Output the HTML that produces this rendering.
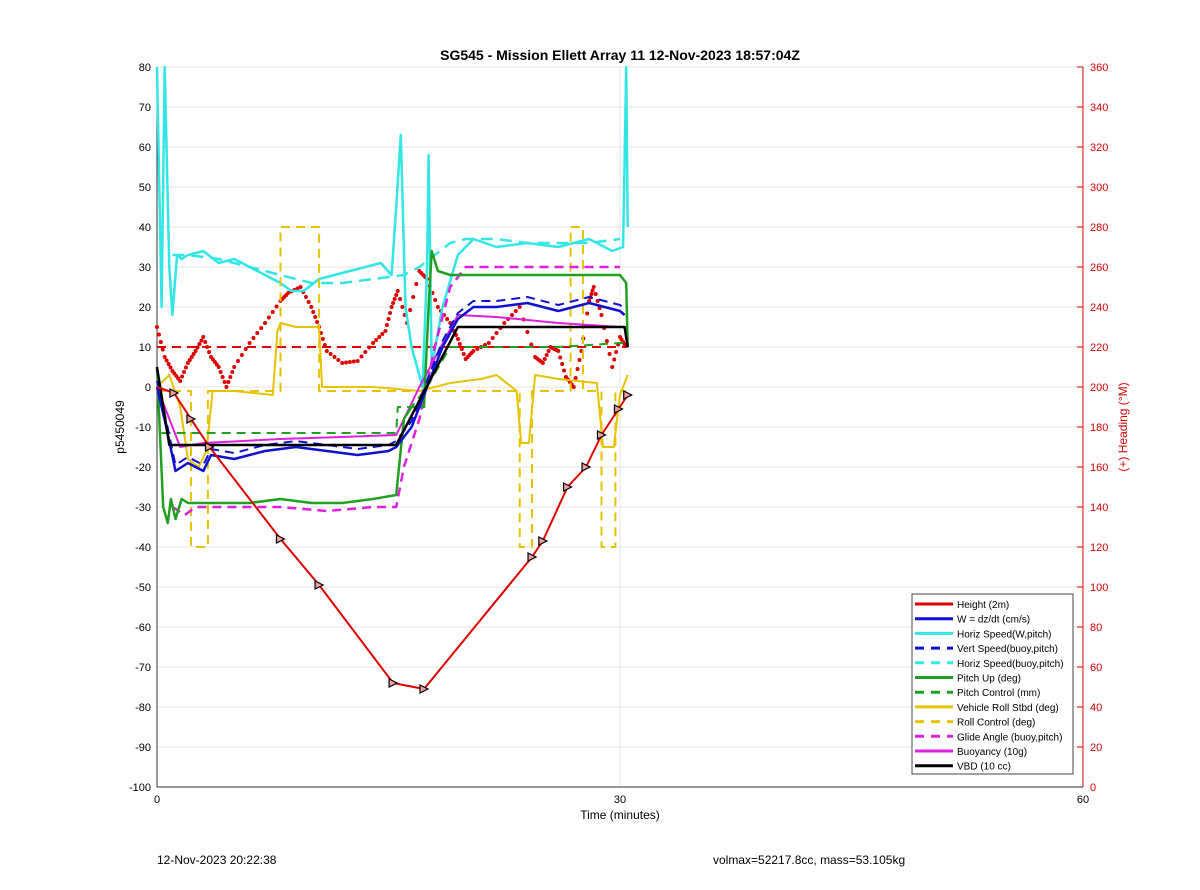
<!DOCTYPE html>
<html><head><meta charset="utf-8"><style>
body{margin:0;background:#fff;font-family:"Liberation Sans",Arial,sans-serif}
svg text{font-family:"Liberation Sans",Arial,sans-serif}
</style></head><body>
<svg id="c" width="1200" height="885" xmlns="http://www.w3.org/2000/svg">
<rect width="1200" height="885" fill="#fff"/>
<text x="620" y="60" text-anchor="middle" font-size="14" font-weight="bold">SG545 - Mission Ellett Array 11 12-Nov-2023 18:57:04Z</text>
<g id="grid"></g><g id="axes"></g><g id="series"></g>
<text x="620" y="819" text-anchor="middle" font-size="12">Time (minutes)</text>
<text x="124" y="427" text-anchor="middle" font-size="12" transform="rotate(-90 124 427)">p5450049</text>
<text x="1127" y="427" text-anchor="middle" font-size="12" fill="#d40000" transform="rotate(-90 1127 427)">(+) Heading (°M)</text>
<text x="157" y="864" font-size="12">12-Nov-2023 20:22:38</text>
<text x="713" y="864" font-size="12">volmax=52217.8cc, mass=53.105kg</text>
<g id="legend"></g>
</svg>
<script>
const xTicks=[0,30,60];
const yTicks=[80,70,60,50,40,30,20,10,0,-10,-20,-30,-40,-50,-60,-70,-80,-90,-100];
const hTicks=[0,20,40,60,80,100,120,140,160,180,200,220,240,260,280,300,320,340,360];
const heightT=[0,1.1,2.2,3.4,8,10.5,15.3,17.3,24.3,25,26.6,27.8,28.8,29.9,30.5];
const heightV=[0,-1.5,-8,-15,-38,-49.5,-74,-75.5,-42.5,-38.5,-25,-20,-12,-5.5,-2];
const wT=[0,0.6,1.2,2,3,3.5,5,7,9,11,13,15,15.5,16.5,17.5,18.5,19.5,20.5,22,24,26,28,29,30,30.3];
const wV=[0,-10,-21,-19,-21,-17,-18,-16,-15,-16,-17,-16,-15,-10,0,10,17,20,20,21,19,21,20,19,18];
const hsT=[0,0.3,0.5,0.8,1.0,1.3,1.6,2,3,4,5,6,7,8,8.7,9.5,10.5,11.5,12.5,13.5,14.5,15.2,15.5,15.8,16.1,16.5,17.2,17.5,17.6,17.8,18.5,19.5,20.5,22,24,26,28,29.5,30.2,30.4,30.5];
const hsV=[80,20,80,30,18,33,32,33,34,31,32,30,28,26,24,24,27,28,29,30,31,28,45,63,20,10,0,30,58,5,20,33,37,35,36,35,37,34,35,80,40];
const hsdT=[1,2,4,6,8,10,12,14,16,17,18,19,20,22,24,26,28,30];
const hsdV=[33,33,32,30,28,26,26,27,28,30,33,36,37,37,36,36,36,37];
const pitchT=[0,0.4,0.7,0.9,1.2,1.6,2,4,6,8,10,12,14,15.5,16,16.5,17.3,17.6,17.8,18.2,19,21,24,27,29,30,30.4,30.5];
const pitchV=[5,-30,-34,-28,-33,-28,-29,-29,-29,-28,-29,-29,-28,-27,-8,-5,-5,20,34,29,28,28,28,28,28,28,26,10];
const pctlT=[0.3,15.5,15.6,16.5,17.5,19,22,26,30,30.5];
const pctlV=[-11.5,-11.5,-5,-5,0,10,10,10,11,11];
const rollT=[0,0.8,1.5,2,2.7,3.2,3.6,5,7.5,7.8,8,9,10.5,10.7,11,14,17,19,21,22,23.3,23.6,24.1,24.5,26,28.5,28.9,29.6,30,30.5];
const rollV=[0,3,-5,-18,-20,-16,-1,-1,-2,14,16,15,15,0,0,0,-1,1,2,3,-1,-14,-14,3,2,1,-15,-15,-2,3];
const rcT=[0,2.2,2.2,3.3,3.3,8,8,10.5,10.5,23.5,23.5,24.3,24.3,26.8,26.8,27.6,27.6,28.8,28.8,29.7,29.7,30.4];
const rcV=[-1,-1,-40,-40,-1,-1,40,40,-1,-1,-40,-40,-1,-1,40,40,-1,-1,-40,-40,-1,-1];
const glideT=[1,1.8,2.5,5,8,11,14,15.5,16,17,18,19,20,24,28,30];
const glideV=[-30,-32,-30,-30,-30,-31,-30,-30,-20,-8,10,25,30,30,30,30];
const buoyT=[0,1.5,3,8,12,15.5,17,19.5,22,26,30];
const buoyV=[0,-15,-14,-13,-12.5,-12,0,18,17.5,16,15];
const vbdT=[0,0.8,15.5,19.5,30.3,30.5];
const vbdV=[5,-14.5,-14.5,15,15,10];
const headT=[0,0.5,1,1.5,2,2.5,3,3.5,4,4.5,5,6,7,8,8.5,9.3,10,10.5,11,12,13,14,14.8,15.2,15.6,16.2,17,17.5,18.2,19,19.5,20,20.5,21.5,22.5,23.5,24.5,25,25.5,26,26.5,27,27.5,28,28.3,28.8,29.5,30,30.4];
const headV=[230,215,208,203,212,218,225,215,210,200,210,222,232,243,247,250,240,230,218,212,213,222,228,240,248,232,258,254,240,232,224,214,218,222,232,240,215,212,220,218,205,200,218,243,250,236,210,225,220];

const X=t=>157+t*(926/60), Y=v=>67+(80-v)*4, H=h=>787-h*2;
const NS="http://www.w3.org/2000/svg";
function mk(tag,at,par){const e=document.createElementNS(NS,tag);for(const k in at)e.setAttribute(k,at[k]);document.getElementById(par).appendChild(e);return e;}
yTicks.forEach(v=>{const l=mk('line',{x1:157,x2:1083,y1:Y(v),y2:Y(v),stroke:'#e6e6e6','stroke-width':1},'grid');


const t=mk('text',{x:151,y:Y(v)+4,'text-anchor':'end','font-size':11},'axes');t.textContent=v;

});
xTicks.forEach(v=>{const l=mk('line',{x1:X(v),x2:X(v),y1:67,y2:787,stroke:'#e6e6e6','stroke-width':1},'grid');


const t=mk('text',{x:X(v),y:803,'text-anchor':'middle','font-size':11},'axes');t.textContent=v;

});
hTicks.forEach(v=>{const t=mk('text',{x:1090,y:H(v)+4,'font-size':11,fill:'#d40000'},'axes');t.textContent=v;


const k=mk('line',{x1:1077,x2:1083,y1:H(v),y2:H(v),stroke:'#d40000'},'axes');

});
const ax=mk('path',{d:'M157 67V787H1083',fill:'none',stroke:'#333'},'axes');


const rax=mk('line',{x1:1083,x2:1083,y1:67,y2:787,stroke:'#d40000'},'axes');


function line(ts,vs,col,w,dash,name,f){const d=ts.map((t,i)=>(i?'L':'M')+X(t).toFixed(1)+' '+(f||Y)(vs[i]).toFixed(1)).join('');
const p=mk('path',{d:d,fill:'none',stroke:col,'stroke-width':w,'stroke-dasharray':dash||'none','stroke-linejoin':'round'},'series');

}
const hd=mk('line',{x1:X(0),x2:X(30.5),y1:H(220),y2:H(220),stroke:'#e00000','stroke-width':2,'stroke-dasharray':'9 6'},'series');


// heading dots
for(let i=0;i<headT.length-1;i++){for(let s=0;s<4;s++){const f=s/4;const t=headT[i]+(headT[i+1]-headT[i])*f,v=headV[i]+(headV[i+1]-headV[i])*f;
const c=mk('circle',{cx:X(t),cy:H(v),r:2,fill:'#e00000'},'series');

}}
line(hsdT,hsdV,'#33e6e6',2.5,'12 7','horiz-speed-buoy-line');
line(hsT,hsV,'#33e6e6',2.5,null,'horiz-speed-line');
line(rcT,rcV,'#e6c200',2,'9 6','roll-control-line');
line(rollT,rollV,'#e6c200',2,null,'vehicle-roll-line');
line(glideT,glideV,'#e020e0',2.5,'9 6','glide-angle-line');
line(buoyT,buoyV,'#e020e0',2,null,'buoyancy-line');
line(pctlT,pctlV,'#20a020',2,'9 6','pitch-control-line');
line(pitchT,pitchV,'#20a020',2.5,null,'pitch-line');
line(wT,wV,'#1010d0',2.5,null,'w-line');
line(wT,wV.map(v=>v+1.5),'#1010d0',2,'9 6','vert-speed-buoy-line');
line(vbdT,vbdV,'#000',2.5,null,'vbd-line');
line(heightT,heightV,'#e00000',2,null,'height-line');
heightT.forEach((t,i)=>{if(i==0)return;const x=X(t),y=Y(heightV[i]);
const p=mk('path',{d:`M${x-4} ${y-4}L${x+4} ${y}L${x-4} ${y+4}Z`,fill:'#f0a0a0',stroke:'#000','stroke-width':1.2},'series');

});
// legend
const leg=[['Height (2m)','#e00000',0],['W = dz/dt (cm/s)','#1010d0',0],['Horiz Speed(W,pitch)','#33e6e6',0],['Vert Speed(buoy,pitch)','#1010d0',1],['Horiz Speed(buoy,pitch)','#33e6e6',1],['Pitch Up (deg)','#20a020',0],['Pitch Control (mm)','#20a020',1],['Vehicle Roll Stbd (deg)','#e6c200',0],['Roll Control (deg)','#e6c200',1],['Glide Angle (buoy,pitch)','#e020e0',1],['Buoyancy (10g)','#e020e0',0],['VBD (10 cc)','#000',0]];
const lb=mk('rect',{x:912,y:594,width:161,height:180,fill:'#fff',stroke:'#444'},'legend');


leg.forEach((l,i)=>{const y=604+i*14.7;
const ln=mk('line',{x1:915,x2:953,y1:y,y2:y,stroke:l[1],'stroke-width':3,'stroke-dasharray':l[2]?'9 7':'none'},'legend');


const t=mk('text',{x:957,y:y+4,'font-size':10},'legend');t.textContent=l[0];

});
</script>
</body></html>
